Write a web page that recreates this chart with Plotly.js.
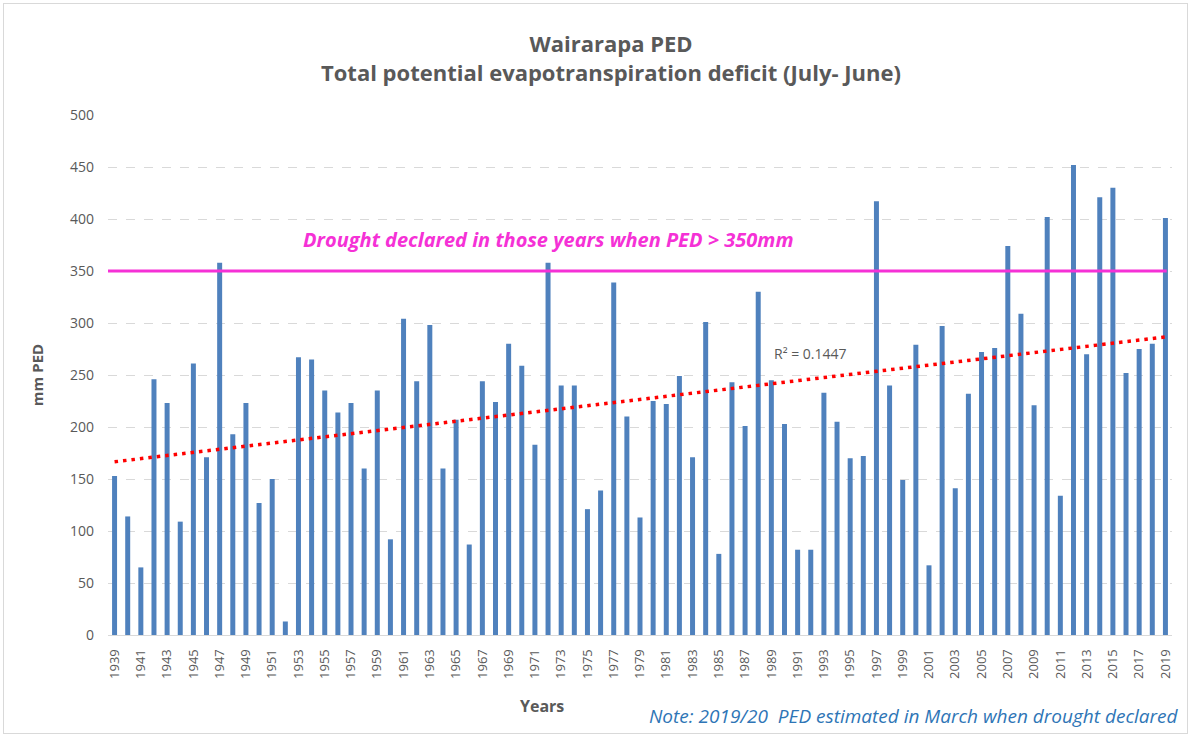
<!DOCTYPE html>
<html>
<head>
<meta charset="utf-8">
<script src="https://cdn.plot.ly/plotly-3.0.1.min.js"></script>
<style>
  html, body { margin: 0; padding: 0; background: #fff; }
  #wrap { position: relative; width: 1191px; height: 737px; }
  #chart { width: 1191px; height: 737px; }
  #frame { position: absolute; left: 3px; top: 3px; width: 1183px; height: 729px; border: 1px solid #d9d9d9; pointer-events: none; }
</style>
</head>
<body>
<div id="wrap"><div id="chart"></div><div id="frame"></div></div>
<script>
const years = [];
for (let y = 1939; y <= 2019; y++) years.push(y);

const ped = [
  153, 114, 65, 246, 223, 109, 261, 171, 358, 193,
  223, 127, 150, 13, 267, 265, 235, 214, 223, 160,
  235, 92, 304, 244, 298, 160, 207, 87, 244, 224,
  280, 259, 183, 358, 240, 240, 121, 139, 339, 210,
  113, 225, 222, 249, 171, 301, 78, 243, 201, 330,
  245, 203, 82, 82, 233, 205, 170, 172, 417, 240,
  149, 279, 67, 297, 141, 232, 272, 276, 374, 309,
  221, 402, 134, 452, 270, 421, 430, 252, 275, 280,
  401
];

const tickYears = years.filter((y, i) => i % 2 === 0);
const droughtThreshold = 350;
const droughtText = 'Drought declared in those years when PED > 350mm';
const r2Text = 'R² = 0.1447';
const noteText = 'Note: 2019/20  PED estimated in March when drought declared';
const xTitle = 'Years';

// Linear trendline (least squares) from the data
const n = ped.length;
const idx = years.map((y, i) => i + 1);
const mx = idx.reduce((a, b) => a + b, 0) / n;
const my = ped.reduce((a, b) => a + b, 0) / n;
let sxy = 0, sxx = 0;
for (let i = 0; i < n; i++) { sxy += (idx[i] - mx) * (ped[i] - my); sxx += (idx[i] - mx) ** 2; }
const slope = sxy / sxx, icpt = my - slope * mx;
const trendX = [years[0], years[n - 1]];
const trendY = [icpt + slope * idx[0], icpt + slope * idx[n - 1]];

const gray = '#595959';

const traces = [
  {
    type: 'bar', x: years, y: ped, width: 0.38,
    marker: { color: '#4f81bd' }, hoverinfo: 'x+y', showlegend: false
  },
  {
    type: 'scatter', mode: 'lines', x: trendX, y: trendY,
    line: { color: '#ff0000', width: 3.5, dash: '3.5px,5px' },
    hoverinfo: 'skip', showlegend: false
  }
];

const layout = {
  width: 1191, height: 737,
  margin: { l: 108, r: 19, t: 115, b: 102 },
  paper_bgcolor: '#ffffff', plot_bgcolor: '#ffffff',
  font: { family: 'Open Sans, sans-serif', color: gray },
  title: {
    text: '<b>Wairarapa PED</b><br><b>Total potential evapotranspiration deficit (July- June)</b>',
    font: { size: 22, color: gray, family: 'Open Sans, sans-serif' },
    x: 0.513, xanchor: 'center', xref: 'container', y: 0.929, yanchor: 'middle'
  },
  xaxis: {
    range: [1938.5, 2019.5],
    tickmode: 'array', tickvals: tickYears, ticktext: tickYears.map(String),
    tickangle: -90, tickfont: { size: 13, color: gray },
    ticklabelstandoff: 8,
    showgrid: false, zeroline: false,
    showline: true, linecolor: '#d9d9d9', linewidth: 1,
    ticks: '', ticklen: 0
  },
  yaxis: {
    range: [0, 500], tickmode: 'linear', tick0: 0, dtick: 50,
    tickfont: { size: 14, color: gray },
    ticklabelstandoff: 13,
    showgrid: true, gridcolor: '#d9d9d9', griddash: 'dash', gridwidth: 1,
    zeroline: false, showline: false, ticks: '',
    title: { text: '<b>mm PED</b>', font: { size: 15, color: gray }, standoff: 22 }
  },
  shapes: [
    { type: 'line', xref: 'paper', x0: 0, x1: 0.995, yref: 'y', y0: droughtThreshold, y1: droughtThreshold,
      line: { color: '#f531d6', width: 3 } }
  ],
  annotations: [
    { text: '<b><i>' + droughtText + '</i></b>', xref: 'x', yref: 'y', x: 1972, y: 380,
      showarrow: false, font: { size: 20, color: '#f531d6' }, xanchor: 'center', yanchor: 'middle' },
    { text: r2Text, xref: 'x', yref: 'y', x: 1992, y: 271, showarrow: false,
      font: { size: 14, color: gray }, xanchor: 'center', yanchor: 'middle' },
    { text: '<b>' + xTitle + '</b>', xref: 'paper', yref: 'paper', x: 0.408, y: -0.1365,
      showarrow: false, font: { size: 16, color: gray }, xanchor: 'center', yanchor: 'middle' },
    { text: '<i>' + noteText + '</i>', xref: 'paper', yref: 'paper', x: 1.008, y: -0.156,
      showarrow: false, font: { size: 19, color: '#2e75b6' }, xanchor: 'right', yanchor: 'middle' }
  ],
  bargap: 0.6
};

Plotly.newPlot('chart', traces, layout, { displayModeBar: false, staticPlot: true });
</script>
</body>
</html>
